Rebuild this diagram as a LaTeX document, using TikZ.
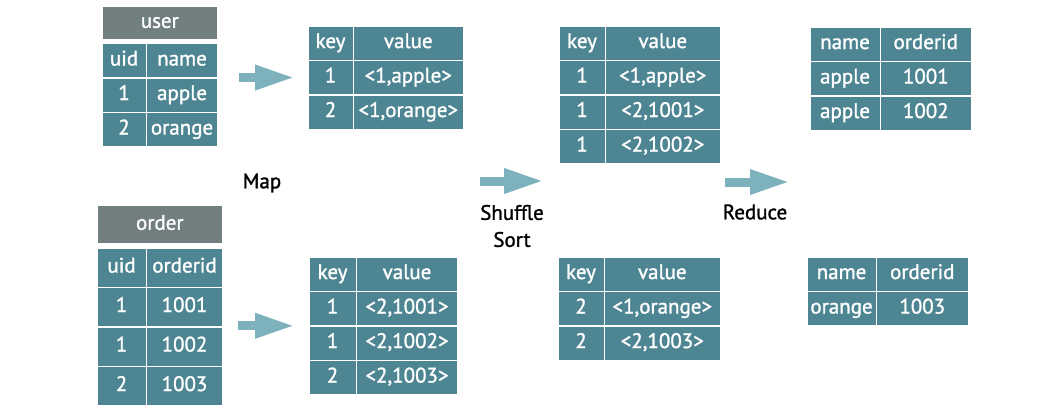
\documentclass[tikz,border=0pt]{standalone}
\usepackage{fontspec}
\setmainfont{PT Sans}[FakeBold=1.3]
\usetikzlibrary{arrows.meta,positioning,matrix}
\definecolor{ccell}{HTML}{4E8593}
\definecolor{chead}{HTML}{717F80}
\definecolor{carrow}{HTML}{7DB2BC}
\tikzset{
  cell/.style={fill=ccell,text=white,inner sep=0pt,minimum height=33pt,anchor=center,
    text height=14pt,text depth=4pt,font=\fontsize{21}{24}\selectfont},
  tbl/.style={matrix of nodes,anchor=north west,column sep=1.5pt,row sep=1.5pt,nodes={cell}},
  hdr/.style={cell,fill=chead},
  blk/.style={draw=carrow,line width=9pt,-{Triangle[length=40pt,width=23pt]}},
  lbl/.style={align=center,font=\fontsize{21}{27}\selectfont}
}

\begin{document}
\begin{tikzpicture}[x=1pt,y=-1pt]
  \useasboundingbox (0,0) rectangle (1061,413);
  % input tables
  \matrix[tbl,column 1/.style={nodes={minimum width=43pt}},
          column 2/.style={nodes={minimum width=70pt}}] (user) at (99,40.5) {
    uid & name \\
    1 & apple \\
    2 & orange \\
  };
  \node[hdr,minimum width=114.5pt,minimum height=32pt,above=1.5pt of user] (userh) {user};
  \matrix[tbl,nodes={minimum height=38pt},
          column 1/.style={nodes={minimum width=48pt}},
          column 2/.style={nodes={minimum width=75pt}}] (order) at (94,245) {
    uid & orderid \\
    1 & 1001 \\
    1 & 1002 \\
    2 & 1003 \\
  };
  \node[hdr,minimum width=124.5pt,minimum height=37pt,above=1.5pt of order] (orderh) {order};
  % map output
  \matrix[tbl,column 1/.style={nodes={minimum width=44pt}},
          column 2/.style={nodes={minimum width=108.5pt}}] (kv1) at (305,23) {
    key & value \\
    1 & <1,apple> \\
    2 & <1,orange> \\
  };
  \matrix[tbl,column 1/.style={nodes={minimum width=46pt}},
          column 2/.style={nodes={minimum width=100pt}}] (kv2) at (306,254) {
    key & value \\
    1 & <2,1001> \\
    1 & <2,1002> \\
    2 & <2,1003> \\
  };
  % shuffle output
  \matrix[tbl,column 1/.style={nodes={minimum width=45pt}},
          column 2/.style={nodes={minimum width=113.5pt}}] (sh1) at (556,23) {
    key & value \\
    1 & <1,apple> \\
    1 & <2,1001> \\
    1 & <2,1002> \\
  };
  \matrix[tbl,column 1/.style={nodes={minimum width=45pt}},
          column 2/.style={nodes={minimum width=114.5pt}}] (sh2) at (555,254) {
    key & value \\
    2 & <1,orange> \\
    2 & <2,1003> \\
  };
  % reduce output
  \matrix[tbl,column 1/.style={nodes={minimum width=69pt}},
          column 2/.style={nodes={minimum width=89.5pt}}] (red1) at (807,24) {
    name & orderid \\
    apple & 1001 \\
    apple & 1002 \\
  };
  \matrix[tbl,column 1/.style={nodes={minimum width=68pt}},
          column 2/.style={nodes={minimum width=90.5pt}}] (red2) at (804,254) {
    name & orderid \\
    orange & 1003 \\
  };
  % labels
  \node[lbl] (map) at (262,183) {Map};
  \node[lbl] (shuf) at (512,226) {Shuffle\\Sort};
  \node[lbl] (reduce) at (755,212) {Reduce};
  \coordinate (shin) at (480,181);
  \coordinate (shout) at (544,181);
  \coordinate (rdin) at (725,182);
  \coordinate (rdout) at (790,182);
  % arrows
  \draw[blk] ([xshift=18pt]user.east |- kv1.west) -- ([xshift=-10pt]kv1.west);
  \draw[blk] ([xshift=12pt]order.east |- kv2.west) -- ([xshift=-11pt]kv2.west);
  \draw[blk] (shin) -- (shout);
  \draw[blk] (rdin) -- (rdout);
\end{tikzpicture}
\end{document}
